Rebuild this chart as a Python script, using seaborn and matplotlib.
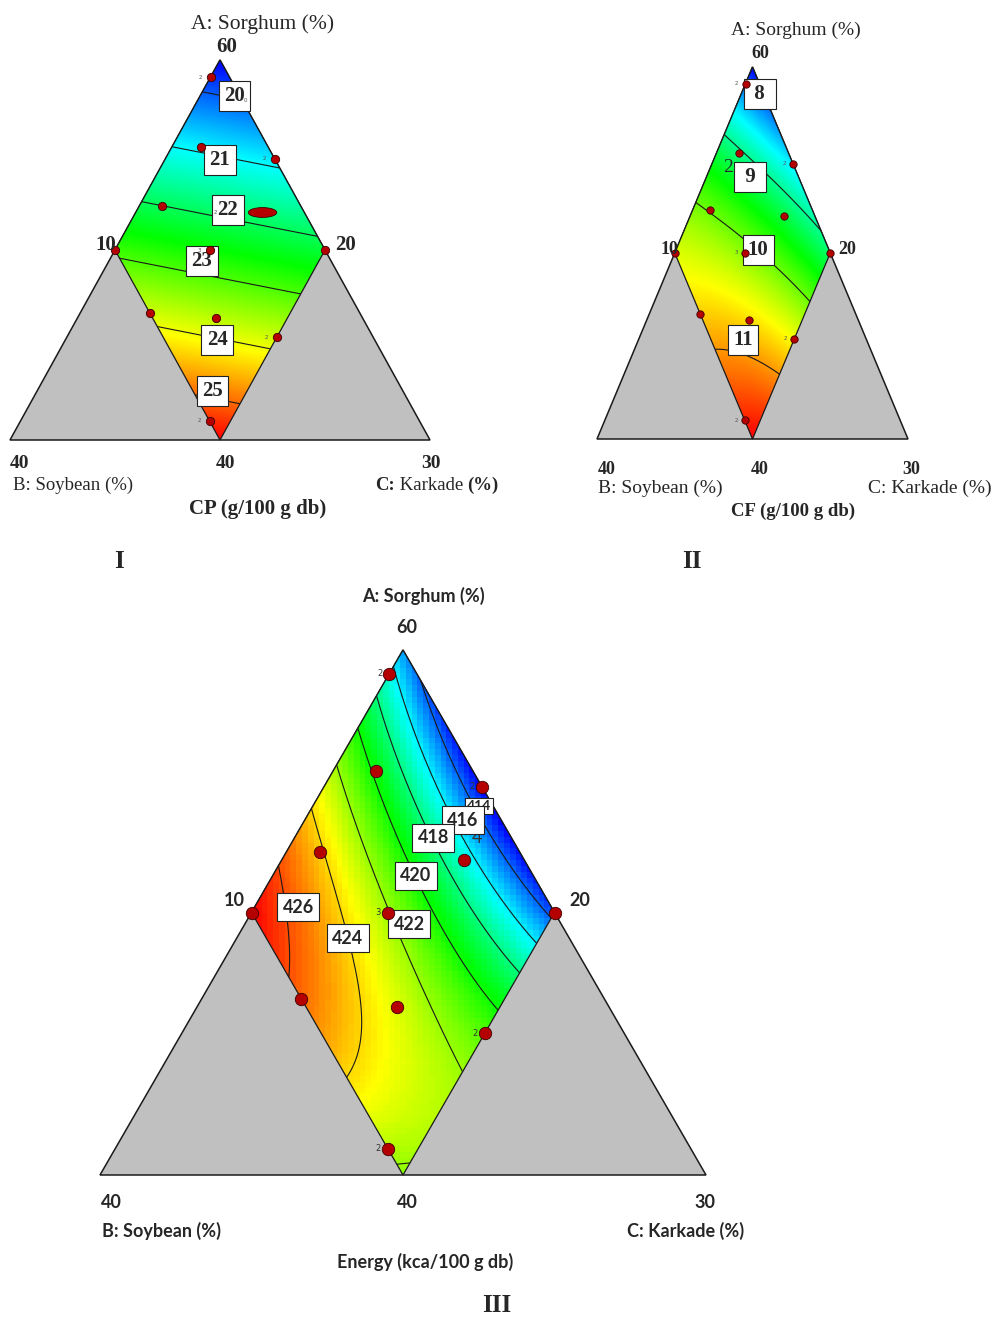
import numpy as np
import pandas as pd
import matplotlib
matplotlib.use("Agg")
import matplotlib.pyplot as plt
import matplotlib.transforms as mtransforms
import seaborn as sns
from matplotlib.colors import LinearSegmentedColormap
from matplotlib.patches import Polygon
from matplotlib.path import Path

sns.set_theme(style="white")
plt.rcParams['font.family'] = ['Liberation Serif', 'DejaVu Sans']

# Component ranges (%): Sorghum 40-60, Soybean 20-30, Karkade 10-20, A + B + C = 90
a_lo, b_lo, c_lo, span = 40, 20, 10, 20

# Design points of the mixture experiment
sorghum = [59.1, 55.4, 54.8, 52.3, 52.0, 50.0, 50.0, 50.0, 46.7, 46.4, 45.4, 41.0]
soybean = [20.9, 23.2, 20.0, 26.6, 22.0, 30.0, 25.5, 20.0, 30.0, 27.0, 24.6, 30.0]
karkade = [10.0, 11.4, 15.2, 11.1, 16.0, 10.0, 14.5, 20.0, 13.3, 16.6, 20.0, 19.0]
replicates = [2, 1, 2, 1, 1, 1, 3, 1, 1, 1, 2, 2]

# Fitted mixture models in pseudo-components:
# terms a, b, c, ab, ac, bc, abc
cp_coef = [19.42, 26.34, 24.98, 0.0, 0.0, 0.0, 0.0]
cf_coef = [7.546, 9.899, 9.873, 6.896, 1.748, 6.892, -5.048]
energy_coef = [414.789, 424.713, 424.588, 29.463, -24.704, -11.661, 58.373]

# Contour levels of each response
cp_levels = [20, 21, 22, 23, 24, 25]
cf_levels = [8, 9, 10, 11]
energy_levels = [414, 416, 418, 420, 422, 424, 426]

W, H = 993, 1317
fig = plt.figure(figsize=(W / 100, H / 100), dpi=100)
fig.patch.set_facecolor('white')

de_cmap = LinearSegmentedColormap.from_list(
    'de', ['#0000ff', '#00ffff', '#00ff00', '#ffff00', '#ff0000'])


def put(x, y, s, **kw):
    kw.setdefault('ha', 'center')
    kw.setdefault('va', 'center')
    return fig.text(x / W, 1 - y / H, s, **kw)


def panel_axes(l, t, r, b):
    return fig.add_axes([l / W, 1 - b / H, (r - l) / W, (b - t) / H])


def to_xy(A, B, C):
    a = (np.asarray(A, float) - a_lo) / span
    c = (np.asarray(C, float) - c_lo) / span
    return c + a / 2, a


def model(coef, X, Y):
    a = Y
    c = X - Y / 2
    b = 1 - a - c
    return (coef[0] * a + coef[1] * b + coef[2] * c + coef[3] * a * b
            + coef[4] * a * c + coef[5] * b * c + coef[6] * a * b * c), a, b, c


def draw_panel(ax, coef, levels, ncells, interp, pt_size, rep_fs, rep_color,
               rep_off, label_pos, label_font, label_fmt, pad, skip_idx=None):
    ax.add_patch(Polygon([(0, 0), (1, 0), (0.5, 1)], closed=True, fc='#c0c0c0',
                         ec='k', lw=1.1, clip_on=False, zorder=1))
    dia = [(0.5, 1), (0.25, 0.5), (0.5, 0), (0.75, 0.5)]
    clip = Polygon(dia, closed=True, fc='none', ec='none', transform=ax.transData)
    ax.add_patch(clip)

    nx, ny = ncells
    Xc, Yc = np.meshgrid((np.arange(nx) + 0.5) / nx, (np.arange(ny) + 0.5) / ny)
    Zc = model(coef, Xc, Yc)[0]
    Xf, Yf = np.meshgrid(np.linspace(0, 1, 500), np.linspace(0, 1, 500))
    Zf, af, bf, cf = model(coef, Xf, Yf)
    inside = (bf >= 0) & (cf >= 0) & (bf <= .5) & (cf <= .5)
    vmin, vmax = Zf[inside].min(), Zf[inside].max()

    im = ax.imshow(Zc, extent=(0, 1, 0, 1), origin='lower', aspect='auto',
                   cmap=de_cmap, vmin=vmin, vmax=vmax, interpolation=interp, zorder=2)
    im.set_clip_path(clip)
    cs = ax.contour(Xf, Yf, Zf, levels=levels, colors='k', linewidths=0.8, zorder=3)
    cs.set_clip_path(clip)
    ax.add_patch(Polygon(dia, closed=True, fc='none', ec='k', lw=0.9,
                         zorder=4, clip_on=False))

    x, y = to_xy(sorghum, soybean, karkade)
    df = pd.DataFrame({'x': x, 'y': y, 'reps': replicates})
    keep = np.ones(len(df), bool)
    if skip_idx is not None:
        keep[skip_idx] = False
    sns.scatterplot(data=df[keep], x='x', y='y', ax=ax, s=pt_size, color='#b40000',
                    edgecolor='#3c0000', linewidth=0.6, zorder=8, legend=False,
                    clip_on=False)
    for _, r in df[df.reps > 1].iterrows():
        ax.annotate(str(int(r.reps)), (r.x, r.y), xytext=(-rep_off, 0),
                    textcoords='offset points', ha='right', va='center',
                    fontsize=rep_fs, color=rep_color, zorder=8,
                    family=['DejaVu Sans'])
    for i, (lev, (fx, fy)) in enumerate(zip(levels, label_pos)):
        if fx is None:
            continue
        ax.text(fx, fy, label_fmt(lev), transform=ax.transAxes, ha='center', va='center',
                zorder=6 + i * 0.01,
                bbox=dict(boxstyle=f'square,pad={pad}', fc='white', ec='#222222', lw=0.8),
                **label_font)
    ax.set_xlim(0, 1)
    ax.set_ylim(0, 1)
    ax.axis('off')
    return ax, df


serif = ['Liberation Serif']
sans = ['Lato']

# ---------- Panel I : crude protein ----------
ax1 = panel_axes(10, 60, 430, 440)
_, df1 = draw_panel(ax1, cp_coef, cp_levels, (420, 380), 'bilinear', 36, 4, '#555555', 6,
                    [(.535, .905), (.5, .737), (.519, .605), (.457, .471), (.493, .263), (.483, .129)],
                    dict(fontsize=15, fontweight='bold', family=serif),
                    lambda v: f"{v:g}", 0.25, skip_idx=[4])
ell = Path.unit_circle().transformed(mtransforms.Affine2D().scale(2.6, 0.9))
ax1.scatter(df1.x[4:5], df1.y[4:5], marker=ell, s=420, color='#b40000',
            edgecolor='#3c0000', linewidth=0.6, zorder=8)
put(245, 100, '0', fontsize=4, color='#555555', family=['DejaVu Sans'], zorder=10)
put(215, 213, '2', fontsize=4, color='#555555', family=['DejaVu Sans'], zorder=10)
put(263, 24, 'A: Sorghum (%)', fontsize=15.5, family=serif)
put(227, 47, '60', fontsize=15, fontweight='bold', family=serif)
put(106, 245, '10', fontsize=15, fontweight='bold', family=serif)
put(346, 245, '20', fontsize=15, fontweight='bold', family=serif)
put(20, 464, '40', fontsize=14, fontweight='bold', family=serif)
put(226, 464, '40', fontsize=14, fontweight='bold', family=serif)
put(431, 464, '30', fontsize=14, fontweight='bold', family=serif)
put(73, 485, 'B: Soybean (%)', fontsize=13.5, family=serif)
t1 = put(375, 485, 'C:', fontsize=13.5, fontweight='bold', family=serif, ha='left')
t2 = ax1.annotate(' Karkade ', xy=(1, 0), xycoords=t1, ha='left', va='bottom',
                  fontsize=13.5, family=serif, annotation_clip=False)
ax1.annotate('(%)', xy=(1, 0), xycoords=t2, ha='left', va='bottom',
             fontsize=13.5, fontweight='bold', family=serif, annotation_clip=False)
put(258, 509, 'CP (g/100 g db)', fontsize=15, fontweight='bold', family=serif)
put(119, 562, 'I', fontsize=18, fontweight='bold', family=serif)

# ---------- Panel II : crude fibre ----------
ax2 = panel_axes(597, 67, 908, 439)
draw_panel(ax2, cf_coef, cf_levels, (311, 372), 'bilinear', 28, 4, '#555555', 5,
           [(.524, .927), (.492, .704), (.518, .508), (.469, .266)],
           dict(fontsize=15, fontweight='bold', family=serif),
           lambda v: f" {v:g} " if v < 10 else f"{v:g}", 0.25)
put(728, 167, '2', fontsize=14, family=serif, zorder=10)
put(796, 30, 'A: Sorghum (%)', fontsize=14, family=serif)
put(760, 53, '60', fontsize=13, fontweight='bold', family=serif)
put(669, 249, '10', fontsize=13, fontweight='bold', family=serif)
put(847, 249, '20', fontsize=13, fontweight='bold', family=serif)
put(607, 469, '40', fontsize=13, fontweight='bold', family=serif)
put(760, 469, '40', fontsize=13, fontweight='bold', family=serif)
put(911, 469, '30', fontsize=13, fontweight='bold', family=serif)
put(660, 488, 'B: Soybean (%)', fontsize=14, family=serif)
put(930, 488, 'C: Karkade (%)', fontsize=14, family=serif)
put(793, 511, 'CF (g/100 g db)', fontsize=13.5, fontweight='bold', family=serif)
put(692, 562, 'II', fontsize=18, fontweight='bold', family=serif)

# ---------- Panel III : energy ----------
ax3 = panel_axes(100, 650, 706, 1175)
draw_panel(ax3, energy_coef, energy_levels, (105, 90), 'nearest', 80, 6, '#333333', 5,
           [(None, None), (.599, .676), (.550, .642), (.521, .570),
            (.510, .478), (.409, .451), (.327, .510)],
           dict(fontsize=13, fontweight='bold', family=sans),
           lambda v: f"{v:g}", 0.3)
# the 414 label sits mostly underneath the 416 label
ax3.text(.625, .703, f"{energy_levels[0]:g}", transform=ax3.transAxes, ha='center',
         va='center', zorder=5.9, fontsize=10, fontweight='bold', family=sans,
         bbox=dict(boxstyle='square,pad=0.15', fc='white', ec='#222222', lw=0.8))
ax3.text((477 - 100) / 606, (1175 - 838) / 525, '4', transform=ax3.transAxes,
         ha='center', va='center', fontsize=13, color='#333333', family=sans, zorder=5.5)
put(423, 596, 'A: Sorghum (%)', fontsize=13, fontweight='bold', family=sans)
put(407, 627, '60', fontsize=13, fontweight='bold', family=sans)
put(234, 900, '10', fontsize=13, fontweight='bold', family=sans)
put(580, 900, '20', fontsize=13, fontweight='bold', family=sans)
put(111, 1203, '40', fontsize=13, fontweight='bold', family=sans)
put(407, 1203, '40', fontsize=13, fontweight='bold', family=sans)
put(705, 1203, '30', fontsize=13, fontweight='bold', family=sans)
put(161, 1231, 'B: Soybean (%)', fontsize=13, fontweight='bold', family=sans)
put(686, 1231, 'C: Karkade (%)', fontsize=13, fontweight='bold', family=sans)
put(425, 1262, 'Energy (kca/100 g db)', fontsize=13, fontweight='bold', family=sans)
put(497, 1306, 'III', fontsize=18, fontweight='bold', family=serif)

fig.savefig('out.png', dpi=100)
